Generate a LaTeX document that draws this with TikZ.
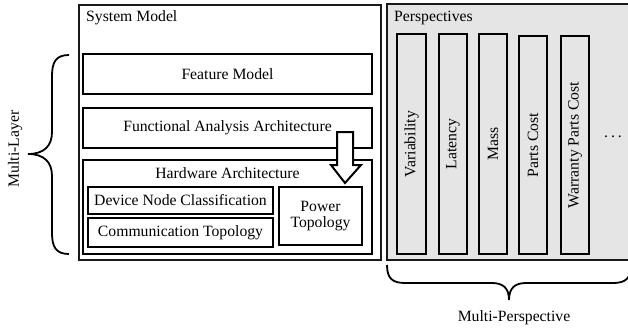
\documentclass[tikz,border=0pt]{standalone}
\usepackage{fontspec}
\setmainfont{Liberation Serif}
\begin{document}
\begin{tikzpicture}[x=1bp,y=-1bp,
  font=\fontsize{15.7bp}{17bp}\selectfont,
  frame/.style={draw=black!90, line width=2bp, rectangle, inner sep=0pt},
  layer/.style={draw=black, line width=2.4bp, fill=white, rectangle, inner sep=0pt, align=center},
  persp/.style={draw=black, line width=2.4bp, fill=black!10, rectangle, inner sep=0pt,
    minimum width=29bp, rotate=90},
  bracepath/.style={draw=black, line width=1.8bp},
  plain/.style={inner sep=0pt}]
\useasboundingbox (0,0) rectangle (628,331);
\clip (0,0) rectangle (628,331);

% system model side
\node[frame, minimum width=302bp, minimum height=255bp] (sys) at (230,132.5) {};
\node[plain, anchor=west] (systitle) at (86,17.5) {System Model};
\node[layer, minimum width=289bp, minimum height=40bp] (feat) at (227.5,74) {Feature Model};
\node[layer, minimum width=289bp, minimum height=40bp] (func) at (227.5,128) {Functional Analysis Architecture};
\node[layer, minimum width=289bp, minimum height=94bp] (hw) at (227.5,207) {};
\node[plain] (hwtitle) at (227.5,173) {Hardware Architecture};
\node[layer, minimum width=185bp, minimum height=27bp] (dev) at (180.5,200.5) {Device Node Classification};
\node[layer, minimum width=185bp, minimum height=29bp] (comm) at (180.5,232.5) {Communication Topology};
\node[layer, minimum width=83bp, minimum height=58bp] (power) at (320.5,216) {Power\\[-1bp]Topology};

% mapping arrow from the functional layer into the hardware layer
\draw[line width=2bp, fill=white, line join=miter]
  (337,132) -- (353,132) -- (353,165) -- (361,165) -- (345,183) -- (331,165) -- (337,165) -- cycle;

% perspectives side
\node[frame, fill=black!10, minimum width=258bp, minimum height=256bp] (persps) at (516,132) {};
\node[plain, anchor=west] (persptitle) at (394,17.5) {Perspectives};
\node[persp, minimum width=220bp, minimum height=29bp] (var) at (411.5,144) {Variability};
\node[persp, minimum width=220bp, minimum height=28bp] (lat) at (453,144) {Latency};
\node[persp, minimum width=220bp, minimum height=28bp] (mass) at (493,144) {Mass};
\node[persp, minimum width=218bp, minimum height=28bp] (parts) at (533,145) {Parts Cost};
\node[persp, minimum width=218bp, minimum height=28bp] (warr) at (575,145) {Warranty Parts Cost};
\node[plain] (more) at (613,137) {.\hspace{3bp}.\hspace{3bp}.};

% left brace
\draw[bracepath] (69,55) .. controls (56,55) and (52,62) .. (52,76)
  -- (52,132) .. controls (52,146) and (44,154) .. (28,154)
  .. controls (44,154) and (52,162) .. (52,176)
  -- (52,233) .. controls (52,247) and (56,254) .. (69,254);
\node[plain, rotate=90] (multilayer) at (15,149) {Multi-Layer};

% bottom brace
\draw[bracepath] (387,265) .. controls (387,278) and (392,283) .. (405,283)
  -- (492,283) .. controls (503,283) and (509,288) .. (509,300)
  .. controls (509,288) and (515,283) .. (526,283)
  -- (613,283) .. controls (626,283) and (631,278) .. (631,265);
\node[plain] (multipersp) at (514,318) {Multi-Perspective};
\end{tikzpicture}
\end{document}
